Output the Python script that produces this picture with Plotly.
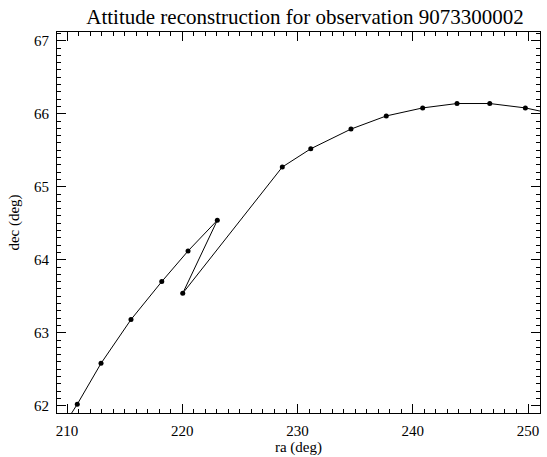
import plotly.graph_objects as go

ra = [208.3, 210.89, 212.95, 215.55, 218.22, 220.50, 223.04, 220.04, 228.68, 231.15,
      234.64, 237.70, 240.86, 243.84, 246.68, 249.77, 252.7]
dec = [61.38, 62.02, 62.58, 63.18, 63.70, 64.12, 64.54, 63.54, 65.27, 65.52,
       65.79, 65.97, 66.08, 66.14, 66.14, 66.08, 65.98]

title = "Attitude reconstruction for observation 9073300002"
font = "Liberation Serif"
xr = [209.13, 251.04]
yr = [61.90, 67.12]

fig = go.Figure()
fig.add_trace(go.Scatter(
    x=ra, y=dec, mode="lines+markers",
    line=dict(color="black", width=1),
    marker=dict(color="black", size=5),
    showlegend=False,
))
# invisible copy to anchor the mirrored tick axes (top/right)
fig.add_trace(go.Scatter(x=ra, y=dec, xaxis="x2", yaxis="y2", mode="markers",
                         marker=dict(opacity=0), showlegend=False, hoverinfo="skip"))

tickfont = dict(family=font, size=15, color="black")
common = dict(showgrid=False, zeroline=False, showline=True, linecolor="black", linewidth=1,
              ticks="inside", tickcolor="black", tickwidth=1, automargin=False, tickfont=tickfont)

fig.update_layout(
    width=547, height=457,
    margin=dict(l=57, r=7, t=32, b=44, autoexpand=False),
    paper_bgcolor="white", plot_bgcolor="white",
    title=dict(text=title, x=305 / 547, xanchor="center", y=1 - 17 / 457, yanchor="middle",
               font=dict(family=font, size=21, color="black"), automargin=False),
    xaxis=dict(range=xr, dtick=10, tick0=210, ticklen=9, ticklabelstandoff=4,
               minor=dict(ticks="inside", dtick=1, ticklen=4, tickcolor="black"),
               title=dict(text="ra (deg)", font=dict(family=font, size=15, color="black"), standoff=3),
               **common),
    yaxis=dict(range=yr, dtick=1, tick0=62, ticklen=9, ticklabelstandoff=4,
               minor=dict(ticks="inside", dtick=0.1, ticklen=4, tickcolor="black"),
               title=dict(text="dec (deg)", font=dict(family=font, size=15, color="black"), standoff=10),
               **common),
    xaxis2=dict(range=xr, overlaying="x", side="top", anchor="y2", dtick=10, tick0=210, ticklen=9,
                minor=dict(ticks="inside", dtick=1, ticklen=4, tickcolor="black"),
                showticklabels=False, **common),
    yaxis2=dict(range=yr, overlaying="y", side="right", anchor="x2", dtick=1, tick0=62, ticklen=9,
                minor=dict(ticks="inside", dtick=0.1, ticklen=4, tickcolor="black"),
                showticklabels=False, **common),
)

fig.write_html("out.html", config={"displayModeBar": False},
               post_script="document.body.style.margin='0';document.body.style.overflow='hidden';")
